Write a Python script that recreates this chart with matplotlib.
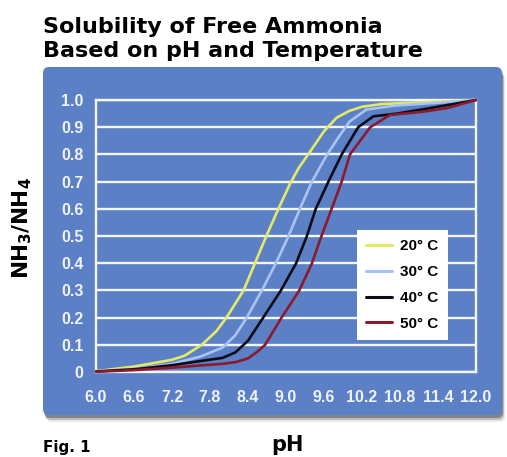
import matplotlib
matplotlib.use('Agg')
import matplotlib.pyplot as plt
from matplotlib.patches import FancyBboxPatch
from matplotlib.font_manager import FontProperties

# ---- data ----
ph_20 = [6.0, 6.6, 7.2, 7.4, 7.67, 7.9, 8.06, 8.33, 8.51, 8.69, 8.88, 9.06, 9.2, 9.35, 9.6, 9.8, 10.0, 10.2, 10.5, 11.0, 11.5, 12.0]
val_20 = [0.003, 0.02, 0.045, 0.06, 0.10, 0.15, 0.20, 0.30, 0.40, 0.50, 0.60, 0.69, 0.75, 0.80, 0.885, 0.935, 0.96, 0.975, 0.985, 0.99, 0.995, 1.0]

ph_30 = [6.0, 6.6, 7.2, 7.64, 8.0, 8.2, 8.38, 8.62, 8.84, 9.04, 9.22, 9.41, 9.65, 9.85, 10.0, 10.27, 10.75, 11.4, 12.0]
val_30 = [0.002, 0.012, 0.03, 0.056, 0.09, 0.135, 0.20, 0.30, 0.40, 0.50, 0.60, 0.70, 0.80, 0.87, 0.92, 0.965, 0.98, 0.99, 1.0]

ph_40 = [6.0, 6.6, 7.2, 7.64, 8.0, 8.2, 8.4, 8.64, 8.92, 9.16, 9.33, 9.47, 9.67, 9.88, 10.14, 10.38, 10.75, 11.27, 12.0]
val_40 = [0.002, 0.01, 0.025, 0.04, 0.052, 0.072, 0.115, 0.20, 0.30, 0.40, 0.50, 0.60, 0.70, 0.80, 0.90, 0.94, 0.95, 0.97, 1.0]

ph_50 = [6.0, 6.6, 7.2, 7.64, 8.0, 8.2, 8.4, 8.55, 8.67, 8.93, 9.21, 9.41, 9.56, 9.72, 9.88, 10.01, 10.33, 10.64, 11.17, 11.54, 12.0]
val_50 = [0.001, 0.007, 0.016, 0.024, 0.03, 0.036, 0.05, 0.075, 0.10, 0.20, 0.30, 0.40, 0.50, 0.60, 0.70, 0.80, 0.90, 0.945, 0.957, 0.97, 1.0]

series_labels = ['20° C', '30° C', '40° C', '50° C']
series_colors = ['#e2ea66', '#a8c4f2', '#0c0c16', '#8a1a2c']

x_ticks = [6.0, 6.6, 7.2, 7.8, 8.4, 9.0, 9.6, 10.2, 10.8, 11.4, 12.0]
x_tick_labels = ['6.0', '6.6', '7.2', '7.8', '8.4', '9.0', '9.6', '10.2', '10.8', '11.4', '12.0']
y_ticks = [0, 0.1, 0.2, 0.3, 0.4, 0.5, 0.6, 0.7, 0.8, 0.9, 1.0]
y_tick_labels = ['0', '0.1', '0.2', '0.3', '0.4', '0.5', '0.6', '0.7', '0.8', '0.9', '1.0']

title_lines = ['Solubility of Free Ammonia', 'Based on pH and Temperature']

# ---- figure ----
W, H = 507, 457
fig = plt.figure(figsize=(W / 100, H / 100), dpi=100, facecolor='white')

bg = fig.add_axes([0, 0, 1, 1])
bg.set_xlim(0, W)
bg.set_ylim(H, 0)
bg.axis('off')

panel_color = '#5c80c6'
for dx, dy, a in [(1, 3, 0.35), (2, 5, 0.22), (3, 7, 0.10)]:
    bg.add_patch(FancyBboxPatch((43 + dx, 67 + dy), 459, 348,
                                boxstyle='round,pad=0,rounding_size=6',
                                fc='#222222', ec='none', alpha=a))
bg.add_patch(FancyBboxPatch((43, 67), 459, 348,
                            boxstyle='round,pad=0,rounding_size=6',
                            fc=panel_color, ec='none'))

title_font = dict(family='DejaVu Sans', weight='bold', size=16, color='black')
bg.text(43, 27, title_lines[0], va='center', ha='left', **title_font)
bg.text(43, 51, title_lines[1], va='center', ha='left', **title_font)

bg.text(22, 228, r'NH$_\mathbf{3}$/NH$_\mathbf{4}$', rotation=90, va='center', ha='center',
        family='DejaVu Sans', weight='bold', size=15.5, color='black')
bg.text(287, 451, 'pH', va='baseline', ha='center',
        family='DejaVu Sans', weight='bold', size=15, color='black')
bg.text(43, 455, 'Fig. 1', va='bottom', ha='left',
        family='DejaVu Sans', weight='bold', size=11, color='black')

# ---- main chart ----
ax = fig.add_axes([96 / W, (H - 372) / H, 380 / W, 272 / H])
ax.patch.set_visible(False)
ax.set_xlim(6.0, 12.0)
ax.set_ylim(0, 1.0)

grid_color = '#f3f6fd'
ax.set_yticks(y_ticks)
ax.set_yticklabels(y_tick_labels)
ax.set_xticks(x_ticks)
ax.set_xticklabels(x_tick_labels)
ax.yaxis.grid(True, color=grid_color, lw=1.7, zorder=1)
ax.xaxis.grid(False)
ax.set_axisbelow(True)
for s in ax.spines.values():
    s.set_color(grid_color)
    s.set_linewidth(1.7)

tick_font = FontProperties(family='Liberation Sans', weight='bold', size=11.5)
for lab in ax.get_xticklabels() + ax.get_yticklabels():
    lab.set_fontproperties(tick_font)
    lab.set_color('#eef3fb')
ax.tick_params(axis='both', length=0)
ax.tick_params(axis='y', pad=9)
ax.tick_params(axis='x', pad=13)

all_ph = [ph_20, ph_30, ph_40, ph_50]
all_val = [val_20, val_30, val_40, val_50]
for ph, val, lab, col in zip(all_ph, all_val, series_labels, series_colors):
    ax.plot(ph, val, color=col, lw=1.9, label=lab, zorder=3,
            solid_joinstyle='round', solid_capstyle='round', clip_on=False)

leg = ax.legend(loc='lower left', bbox_to_anchor=(0.686, 0.1176), borderaxespad=0,
                frameon=True, fancybox=False, framealpha=1, edgecolor='white',
                facecolor='white',
                prop=FontProperties(family='Liberation Sans', weight='bold', size=11),
                handlelength=1.7, handletextpad=0.55, labelspacing=0.78, borderpad=0.6)
leg.get_frame().set_linewidth(0)
for line in leg.get_lines():
    line.set_linewidth(2.2)
leg.set_zorder(5)

fig.savefig('out.png', dpi=100, facecolor='white')
